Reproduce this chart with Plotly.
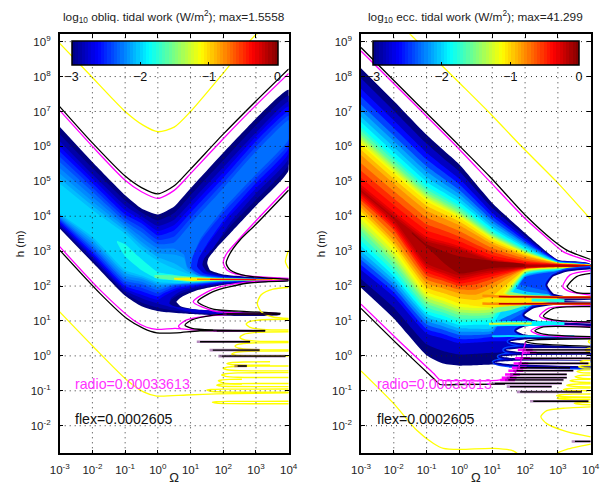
import plotly.graph_objects as go

# ---------- labels ----------
TITLE_L = "log<sub>10</sub> obliq. tidal work (W/m<sup>2</sup>); max=1.5558"
TITLE_R = "log<sub>10</sub> ecc. tidal work (W/m<sup>2</sup>); max=41.299"
RADIO_TXT = "radio=0.00033613"
FLEX_TXT = "flex=0.0002605"
Q_TICKS = [-3, -2, -1, 0, 1, 2, 3, 4]
H_TICKS = [-2, -1, 0, 1, 2, 3, 4, 5, 6, 7, 8, 9]
CB_TICKS = [-3, -2, -1, 0]

# ---------- left panel: filled contour levels, log10(Q), log10(h) ----------
LL = [-3, -2.88, -2.75, -2.62, -2.5, -2.4, -2.3, -2.22, -2.15, -2.07, -2, -1.82, -1.6, -1.1, -0.75, -0.4]
LX0 = [-3,-2,-1,-.5,0,.5,1,2,3,4, 4,3,2.3,1.8,1.55,1.51,1.6,2,3,4, 4,3,2,1.2,.75,.57,.7,1.2,2,3,3.7,3.7,2,1,0,-.5,-1,-2,-3]
LY0 = [6.56,5.55,4.6,4.22,4.05,4.28,4.8,5.82,6.8,7.62, 5.32,4.3,3.6,3.1,2.8,2.65,2.45,2.33,2.25,2.21, 2.15,2.1,2.03,1.88,1.7,1.55,1.42,1.32,1.28,1.24,1.22,1.17,1.15,1.2,1.28,1.42,1.72,2.68,3.65]
LX1 = [-3,-2,-1,-.5,0,.5,1,2,3,4, 4,3,2.2,1.7,1.42,1.36,1.5,2,3,4, 4,3,2,1.2,.7,.4,.35,.5,1,2,2.6,2.6,2,1,0,-.5,-1,-2,-3]
LYA = [6.35,5.38,4.45,4.11,3.88,4.09,4.6,5.6,6.6,7.45, 5.48,4.47,3.7,3.1,2.8,2.62,2.43,2.3,2.23,2.205, 2.155,2.12,2.05,1.92,1.78,1.6,1.46,1.37,1.31,1.26,1.23,1.19,1.17,1.23,1.38,1.53,1.8,2.75,3.7]
LY1 = [6.15,5.2,4.3,4.0,3.72,3.9,4.4,5.4,6.4,7.28, 5.65,4.65,3.8,3.1,2.8,2.6,2.4,2.28,2.22,2.2, 2.16,2.14,2.08,1.97,1.85,1.65,1.5,1.42,1.34,1.28,1.24,1.21,1.2,1.26,1.5,1.65,1.87,2.82,3.75]
LX2 = [-3,-2,-1,-.5,0,.5,1,2,3,4, 4,3,2.1,1.5,1.25,1.2,1.4,2,3,4, 4,3,2,1.2,.6,.2,0,-.5,-1,-2,-3]
LYB = [6.0,5.08,4.17,3.9,3.58,3.75,4.25,5.25,6.28,7.14, 5.8,4.8,3.9,3.15,2.8,2.57,2.38,2.27,2.215,2.197, 2.162,2.145,2.095,2.0,1.9,1.72,1.6,1.75,1.93,2.88,3.8]
LY2 = [5.85,4.95,4.05,3.8,3.45,3.6,4.1,5.1,6.15,7.0, 5.95,4.95,4.0,3.2,2.8,2.55,2.36,2.26,2.21,2.195, 2.165,2.15,2.11,2.03,1.95,1.8,1.7,1.85,2.0,2.95,3.85]
LX3 = [-3,-2,-1,-.5,0,.5,1,2,3,4, 4,3,2,1.3,1.05,1.02,1.3,2,3,4, 4,3,2,1.2,.5,0,-.5,-1,-2,-3]
LYC = [5.7,4.82,3.95,3.67,3.32,3.42,3.94,4.95,6.0,6.88, 6.08,5.08,4.1,3.28,2.8,2.52,2.34,2.25,2.207,2.192, 2.167,2.155,2.12,2.05,1.98,1.79,1.95,2.07,3.02,3.89]
LY3 = [5.55,4.7,3.85,3.55,3.2,3.25,3.78,4.8,5.85,6.75, 6.2,5.2,4.2,3.35,2.8,2.5,2.32,2.24,2.205,2.19, 2.17,2.16,2.13,2.07,2.02,1.88,2.05,2.15,3.1,3.93]
LX4 = [-3,-2,-1,-.5,0,.5,.8,.9,1.2,2,3,4, 4,3,2,1.2,.5,0,-.5,-1,-2,-3]
LYD = [5.38,4.56,3.76,3.4,3.08,3.07,2.9,2.55,2.32,2.235,2.205,2.187, 2.173,2.162,2.135,2.08,2.04,1.95,2.12,2.22,3.17,3.96]
LY4 = [5.22,4.42,3.68,3.27,2.95,2.9,2.8,2.5,2.3,2.225,2.2,2.185, 2.175,2.165,2.14,2.09,2.06,2.02,2.2,2.3,3.25,4.0]
LX5 = [-3,-2,-1,-.5,0,.5,.9,1.3,2,3,4, 4,3,2,1.2,.5,0,-.5,-1,-2,-3]
LYE = [5.08,4.3,3.59,3.17,2.83,2.65,2.42,2.28,2.22,2.197,2.184, 2.176,2.167,2.145,2.10,2.07,2.07,2.25,2.38,3.33,4.04]
LY5 = [4.94,4.18,3.5,3.05,2.72,2.5,2.35,2.27,2.215,2.195,2.183, 2.177,2.17,2.15,2.11,2.08,2.12,2.3,2.46,3.41,4.08]
LX6 = [-1.25,-1.0,-.6,0,.5,1,2,3,4, 4,3,2,1,.5,0,-.5,-1,-1.25]
LY6 = [3.3,3.2,2.85,2.4,2.32,2.27,2.21,2.19,2.18, 2.17,2.18,2.17,2.12,2.16,2.2,2.45,2.85,3.25]
LX7 = [-.1,.5,1,2,3,4, 4,3,2,1,.5,-.1]
LY7 = [2.3,2.29,2.25,2.205,2.19,2.18, 2.175,2.18,2.175,2.14,2.18,2.25]
LX8 = [.5,1,2,3,4, 3,2,1,.5]
LY8 = [2.22,2.23,2.2,2.19,2.18, 2.18,2.18,2.16,2.2]
LX9 = [1.2,2,3,3.5, 3,2,1.2]
LY9 = [2.2,2.195,2.187,2.18, 2.18,2.185,2.19]
LX10 = [1.6,3,1.6]
LY10 = [2.192,2.185,2.188]

# left lines
L_Q_V = [-3,-2,-1,-.5,0,.5,1,2,3,4]
L_BLK_V = [7.14,6.1,5.15,4.82,4.64,4.87,5.35,6.35,7.3,8.22]
L_MAG_V = [7.03,6.0,5.03,4.7,4.51,4.74,5.22,6.22,7.18,8.09]
L_BLK_A_Q = [-3,-1.77,-.95,-.44,-.03,.58,1.29,3.28]
L_BLK_A_H = [3.03,1.79,1.07,.79,.66,.66,.72,.72]
L_MAG_A_Q = [-3,-1.77,-.75,-.34,-.03,.53,.88,1.7,3.2]
L_MAG_A_H = [3.13,1.89,1.03,.82,.76,.79,.76,.72,.72]
L_BLK_B_Q = [3.74,2.51,1.7,1.04,.83,1.04,1.7,3.28]
L_BLK_B_H = [1.2,1.22,1.17,1.03,.88,.79,.74,.72]
L_MAG_B_Q = [3.6,2.31,1.5,.88,.63,.7]
L_MAG_B_H = [1.22,1.2,1.14,1.03,.85,.78]
L_BLK_C_Q = [4,2.72,1.69,1.22,1.69,2.72,3.75]
L_BLK_C_H = [2.15,2.08,1.84,1.55,1.34,1.27,1.22]
L_MAG_C_Q = [4,2.72,1.69,1.08,1.69,2.72,3.5]
L_MAG_C_H = [2.17,2.11,1.91,1.55,1.29,1.22,1.2]
L_BLK_D_Q = [4,2.72,2.21,2.09,2.21,2.51,3,4]
L_BLK_D_H = [2.19,2.29,2.46,2.65,2.94,3.32,3.77,4.75]
L_MAG_D_Q = [4,2.51,2.11,2.0,2.11,2.46,3,4]
L_MAG_D_H = [2.22,2.32,2.46,2.67,2.94,3.32,3.87,4.85]
L_ROW_H = [.405,.166,-.006,-.29,1.2,.72]
L_ROW_Q0 = [1.19,1.58,1.85,2.34,2.0,1.7]
L_ROW_Q1 = [2.82,3.11,3.9,2.72,3.74,3.28]
L_YEL_V_Q = [-3,-2.08,-1,-.44,0,.5,1,2,3,3.68]
L_YEL_V_H = [8.95,8.05,7,6.6,6.42,6.55,7,8.1,9.2,9.5]
L_YEL_W_Q = [-3,-1.97,-.95,-.44,-.03,.88,1.8,4]
L_YEL_W_H = [1.26,.26,-.69,-1.03,-1.15,-1.12,-1.09,-1.06]
L_YEL_ARC_Q = [4,3.9,4]
L_YEL_ARC_H = [3.03,2.7,2.5]
# yellow fringe lobes: tip, right end, top, bottom
L_T_Q = [3.04,2.7,2.51,2.36,2.26,2.11,2.0,1.95,1.85,1.8,1.5,1.67]
L_T_H = [1.5,.91,.53,.28,.05,-.22,-.36,-.55,-.71,-.84,-.98,-1.33]
L_T_E = [4,4,4,4,4,3.43,4,4,2.57,4,4,4]
L_T_TOP = [1.96,1.05,.69,.38,.14,-.17,-.29,-.48,-.67,-.79,-.95,-1.3]
L_T_BOT = [1.07,.74,.41,.17,-.005,-.27,-.43,-.62,-.81,-.88,-1.04,-1.37]

# ---------- right panel: filled contour levels ----------
RL = [-3, -2.8, -2.6, -2.43, -2.25, -2.12, -2, -1.87, -1.75, -1.62, -1.5, -1.37, -1.25, -1.15, -1.05, -.92, -.8, -.65, -.5, -.4, -.3, -.22, -.15]
R_UQ = [-3,-2,-1,-.5,0,1,2,3,4]
R_LQ = [-3,-2,-1,-.5,0,.5,1,2,3,4]
RU0 = [8.24,7.3,6.33,5.9,5.48,4.38,3.52,2.75,2.62]
RD0 = [1.95,1.07,.02,-.22,-.28,-.27,-.25,-.22,-.22,-.22]
RU1 = [7.95,7.02,6.08,5.67,5.28,4.24,3.44,2.74,2.615]
RD1 = [2.2,1.38,.33,.14,.04,.06,.09,.1,.1,.1]
RU2 = [7.65,6.74,5.82,5.44,5.07,4.10,3.36,2.73,2.61]
RD2 = [2.46,1.69,.64,.5,.36,.38,.42,.42,.42,.42]
RU3 = [7.43,6.53,5.63,5.27,4.91,4.0,3.3,2.72,2.61]
RD3 = [2.6,1.82,.77,.63,.48,.49,.54,.54,.54,.54]
RU4 = [7.2,6.31,5.43,5.09,4.75,3.89,3.24,2.71,2.61]
RD4 = [2.75,1.95,.9,.75,.6,.6,.65,2.25,2.42,2.48]
RU5 = [7.03,6.15,5.28,4.95,4.63,3.81,3.2,2.7,2.605]
RD5 = [2.87,2.06,1.01,.85,.7,.69,.72,2.27,2.43,2.49]
RU6 = [6.85,5.98,5.12,4.81,4.51,3.72,3.15,2.69,2.6]
RD6 = [3.0,2.17,1.12,.95,.79,.78,.8,2.3,2.45,2.5]
RU7 = [6.7,5.83,4.99,4.69,4.4,3.65,3.1,2.685,2.6]
RD7 = [3.15,2.28,1.21,1.05,.88,.89,.92,2.32,2.46,2.51]
RU8 = [6.55,5.69,4.86,4.58,4.30,3.58,3.06,2.68,2.6]
RD8 = [3.3,2.4,1.3,1.15,.98,1.0,1.05,2.35,2.48,2.52]
RU9 = [6.45,5.6,4.77,4.5,4.23,3.53,3.03,2.675,2.6]
RD9 = [3.45,2.52,1.4,1.24,1.07,1.07,1.12,2.36,2.49,2.53]
RU10 = [6.35,5.5,4.69,4.42,4.16,3.48,3.01,2.67,2.6]
RD10 = [3.6,2.65,1.5,1.33,1.17,1.15,1.2,2.38,2.5,2.54]
RU11 = [6.27,5.43,4.62,4.36,4.1,3.44,2.99,2.67,2.6]
RD11 = [3.7,2.76,1.58,1.41,1.25,1.22,1.27,2.4,2.51,2.545]
RU12 = [6.2,5.36,4.56,4.3,4.05,3.41,2.97,2.67,2.6]
RD12 = [3.8,2.87,1.67,1.5,1.33,1.3,1.35,2.42,2.52,2.55]
RU13 = [6.12,5.29,4.5,4.24,4.0,3.37,2.95,2.665,2.6]
RD13 = [3.92,2.98,1.75,1.58,1.41,1.37,1.42,2.43,2.52,2.555]
RU14 = [6.05,5.22,4.43,4.19,3.95,3.34,2.93,2.66,2.6]
RD14 = [4.03,3.1,1.84,1.67,1.5,1.45,1.5,2.45,2.53,2.56]
RU15 = [5.9,5.07,4.3,4.07,3.85,3.27,2.89,2.655,2.595]
RD15 = [4.14,3.2,1.96,1.8,1.65,1.6,1.72,2.46,2.535,2.56]
RU16 = [5.75,4.93,4.16,3.95,3.74,3.2,2.85,2.65,2.59]
RD16 = [4.25,3.3,2.08,1.93,1.79,1.75,1.95,2.48,2.54,2.56]
RU17 = [5.52,4.72,3.96,3.77,3.58,3.09,2.79,2.64,2.59]
RD17 = [4.35,3.45,2.19,2.04,1.9,1.9,2.08,2.49,2.545,2.565]
RU18 = [5.3,4.51,3.77,3.6,3.42,2.98,2.73,2.63,2.59]
RD18 = [4.45,3.6,2.3,2.15,2.0,2.05,2.2,2.5,2.55,2.57]
RU19 = [5.1,4.32,3.6,3.44,3.28,2.88,2.69,2.625,2.587]
RD19 = [4.52,3.67,2.4,2.23,2.07,2.15,2.28,2.51,2.55,2.57]
RU20 = [4.9,4.13,3.42,3.28,3.14,2.79,2.65,2.62,2.585]
RD20 = [4.6,3.75,2.5,2.32,2.15,2.25,2.35,2.52,2.55,2.57]
RU21 = [4.82,4.05,3.35,3.22,3.09,2.75,2.63,2.61,2.582]
RD21 = [4.65,3.82,2.57,2.38,2.22,2.31,2.4,2.53,2.555,2.57]
RU22 = [4.75,3.98,3.29,3.16,3.04,2.72,2.61,2.6,2.58]
RD22 = [4.7,3.9,2.65,2.45,2.3,2.37,2.45,2.54,2.56,2.57]
R_CORE_Q = [-1.45,-1,0,1,2,2,1,0,-.4,-.8,-1.45]
R_CORE_H = [3.55,3.2,2.85,2.72,2.62,2.57,2.52,2.36,2.6,2.95,3.5]
# side lobe around the two stripes near h=40
R_LOBE_L = [-2.3, -2, -1.5, -1.05]
RLXA = [.5,1.5,2,3,4, 4,3,2,1.5,1,.5]
RLYA = [2.3,2.15,2.0,1.8,1.73, 1.46,1.44,1.25,1.0,.8,.75]
RLX0 = [.5,1.5,2,3,4, 4,3,2,1.5,1,.5]
RLY0 = [2.2,2.0,1.85,1.74,1.72, 1.47,1.46,1.35,1.15,.95,.9]
RLX1 = [.5,1,1.5,2,3,4, 4,3,2,1.5,1,.5]
RLY1 = [2.0,1.95,1.85,1.76,1.72,1.71, 1.48,1.47,1.43,1.3,1.22,1.2]
RLX2 = [.3,1,1.5,2,3,4, 4,3,2,1.5,1,.3]
RLY2 = [1.95,1.88,1.75,1.72,1.7,1.7, 1.48,1.48,1.46,1.42,1.38,1.45]
R_S1_Q = [.7,1.2,2,3,4]
R_S1_H = [1.72,1.7,1.69,1.68,1.68]
R_S2_Q = [.7,1.2,2,3,4]
R_S2_H = [1.5,1.49,1.49,1.49,1.49]
R_S3_Q = [.9,1.5,2.2,3.2]
R_S3_H = [.92,.93,.93,.92]
R_S4_Q = [1,1.5,2.5,3.5]
R_S4_H = [.56,.57,.56,.56]
R_S5_Q = [2.2,2.8,3.2]
R_S5_H = [1.6,1.59,1.58]
# white tongues
WX1 = [4,3.27,2.86,2.68,2.86,3.27,4]
WY1 = [2.48,2.41,2.27,2.03,1.79,1.71,1.7]
WX2 = [4,3.12,4]
WY2 = [1.61,1.58,1.55]
WX3 = [4,2.86,2.25,1.98,2.25,2.86,4]
WY3 = [1.44,1.46,1.36,1.17,1.03,.97,.93]
WX4 = [4,2.66,1.95,1.73,1.95,2.86,4]
WY4 = [.85,.89,.83,.72,.62,.55,.53]
WX5 = [4,2.2,1.54,2.2,4]
WY5 = [.5,.48,.41,.33,.25]
WX6 = [4,2,1.41,2,4]
WY6 = [.22,.22,.17,.1,.08]
WX7 = [4,1.8,1.24,1.8,4]
WY7 = [.03,.02,-.02,-.08,-.12]
WX8 = [4,1.7,1.09,1.6,4]
WY8 = [-.14,-.14,-.18,-.24,-.3]

# right lines
R_BLK_V_Q = [-3,-1.3,-.08,.93,2.05,2.81,3.27,4]
R_BLK_V_H = [8.83,7.23,6.09,5.13,3.99,3.34,3.03,2.76]
R_MAG_V_Q = [-3,-1.3,-.08,.93,2.05,2.71,3.17,4]
R_MAG_V_H = [8.73,7.14,5.99,4.99,3.89,3.34,2.98,2.7]
R_BLK_A_Q = [-3,-1.81,-.79,-.59,-.08,1.39]
R_BLK_A_H = [1.36,.26,-.65,-.82,-.82,-.81]
R_MAG_A_Q = [-3,-1.81,-.79,-.59,-.08,1.24,1.64,1.85,1.95,2.02]
R_MAG_A_H = [1.48,.4,-.5,-.69,-.71,-.69,-.55,-.22,.17,.41]
R_BLK_T1_Q = [4,3.57,3.29,3.57,4]
R_BLK_T1_H = [2.36,2.27,1.98,1.81,1.79]
R_MAG_T1_Q = [4,3.37,3.15,3.37,4]
R_MAG_T1_H = [2.44,2.32,1.98,1.84,1.74]
R_BLK_T3_Q = [4,2.86,2.56,2.86,4]
R_BLK_T3_H = [1.41,1.36,1.14,1.03,.97]
R_MAG_T3_Q = [4,2.71,2.44,2.71,4]
R_MAG_T3_H = [1.43,1.36,1.14,1.03,.95]
R_BLK_T4_Q = [4,2.56,2.3,2.56,4]
R_BLK_T4_H = [.82,.83,.72,.62,.55]
R_MAG_T4_Q = [4,2.45,2.18,2.45,4]
R_MAG_T4_H = [.84,.84,.72,.6,.54]
R_BLK_T5_Q = [4,2.3,2.02,2.3,4]
R_BLK_T5_H = [.49,.46,.41,.35,.27]
R_ROW_H = [.17,.09,-.07,-.215,-.34,-.425,-.53,-.625,-.69,-.79,-.88,-1.03,-1.3,-2.45]
R_ROW_Q0 = [1.93,2.05,1.85,1.8,1.75,1.64,1.54,1.44,1.39,.98,1.44,1.75,2.15,3.42]
R_ROW_Q1 = [4,3.98,4,3.93,3.37,3.47,3.27,3.27,3.17,3.12,2.81,3.73,3.93,4]
R_YEL_V_Q = [-1.7,-1.5,.02,.98,1.85,2.96,4]
R_YEL_V_H = [9.4,9.21,7.8,6.9,6.04,4.99,3.91]
R_YEL_W_Q = [-3,-2.01,-1.3,-.79,-.49,.02,1.03,1.64,1.95]
R_YEL_W_H = [-.43,-1.36,-2.13,-2.51,-2.65,-2.68,-2.65,-2.72,-2.95]
R_YEL_X_Q = [2.8,2.96,3.27,4]
R_YEL_X_H = [-2.95,-2.8,-2.68,-2.53]
R_YEL_Y_Q = [4,3.27,2.66,2.48,2.66,3.17,4]
R_YEL_Y_H = [-2.32,-2.17,-1.94,-1.74,-1.57,-1.5,-1.46]
R_T_Q = [3.93,3.83,3.68,3.63,3.58,3.52,3.37,3.27,3.17,2.96,2.98,3.5]
R_T_H = [.41,.17,-.17,-.31,-.45,-.6,-.71,-.84,-.96,-1.14,-1.22,-1.36]
R_T_E = [4,4,4,4,4,4,4,4,4,4,4,4]
R_T_TOP = [.45,.22,-.13,-.27,-.4,-.55,-.67,-.8,-.92,-1.09,-1.19,-1.33]
R_T_BOT = [.37,.12,-.21,-.35,-.49,-.65,-.76,-.89,-1.0,-1.18,-1.25,-1.4]

# ---------- layout geometry ----------
W, H = 605, 485
X_DOM_L = [59.7 / W, 288.7 / W]
X_DOM_R = [361.0 / W, 590.7 / W]
Y_DOM = [1 - 453.3 / H, 1 - 34.3 / H]
Y_RANGE = [-2.79, 9.21]
X_RANGE = [-3, 4]
FONT = "Liberation Sans"


def clip(v):
    return max(0.0, min(1.0, v))


def jet(t):
    r = clip(1.5 - abs(4 * t - 3))
    g = clip(1.5 - abs(4 * t - 2))
    b = clip(1.5 - abs(4 * t - 1))
    return "rgb(%d,%d,%d)" % (r * 255, g * 255, b * 255)


def lev(level):
    return jet((level + 3) / 3)


N_STEPS = 64
colorscale = []
for i in range(N_STEPS):
    c = jet((i + 0.5) / N_STEPS)
    colorscale.append([i / N_STEPS, c])
    colorscale.append([(i + 1) / N_STEPS, c])

fig = go.Figure()


def P(v):
    return [10 ** a for a in v]


def poly(ax, xs, ys, color, line=0, fill=True, lc=None):
    fig.add_trace(go.Scatter(
        x=P(xs), y=P(ys), mode="lines", xaxis="x" + ax, yaxis="y" + ax,
        fill="toself" if fill else "none", fillcolor=color,
        line=dict(color=lc or color, width=line, shape="spline", smoothing=0.5),
        hoverinfo="skip", showlegend=False))


def curve(ax, xs, ys, color, width=1.3, smooth=0.7):
    fig.add_trace(go.Scatter(
        x=P(xs), y=P(ys), mode="lines", xaxis="x" + ax, yaxis="y" + ax,
        line=dict(color=color, width=width, shape="spline", smoothing=smooth),
        hoverinfo="skip", showlegend=False))


def lobes(ax, tq, th, te, top, bot):
    for q, h, e, t, b in zip(tq, th, te, top, bot):
        n = min(0.5, (e - q) / 2)
        m = min(0.12, (e - q) / 5)
        curve(ax, [e, q + n, q + m, q, q + m, q + n, e],
              [t, h + .9 * (t - h), h + .55 * (t - h), h, h + .55 * (b - h), h + .9 * (b - h), b],
              "#ffff00", 1.4)


# left fills
LEFT_X = [LX0, LX1, LX1, LX2, LX2, LX3, LX3, LX4, LX4, LX5, LX5, LX6, LX7, LX8, LX9, LX10]
LEFT_Y = [LY0, LYA, LY1, LYB, LY2, LYC, LY3, LYD, LY4, LYE, LY5, LY6, LY7, LY8, LY9, LY10]
for i, (lv, xs, ys) in enumerate(zip(LL, LEFT_X, LEFT_Y)):
    poly("", xs, ys, lev(lv), line=1.0 if lv >= -1.6 else 0)

# right fills, sorted by level
stack = []
R_UPS = [RU0, RU1, RU2, RU3, RU4, RU5, RU6, RU7, RU8, RU9, RU10, RU11, RU12, RU13, RU14, RU15, RU16, RU17, RU18, RU19, RU20, RU21, RU22]
R_DNS = [RD0, RD1, RD2, RD3, RD4, RD5, RD6, RD7, RD8, RD9, RD10, RD11, RD12, RD13, RD14, RD15, RD16, RD17, RD18, RD19, RD20, RD21, RD22]
for lv, up, dn in zip(RL, R_UPS, R_DNS):
    stack.append((lv, R_UQ + R_LQ[::-1], up + dn[::-1]))
for lv, xs, ys in zip(R_LOBE_L, [RLXA, RLX0, RLX1, RLX2], [RLYA, RLY0, RLY1, RLY2]):
    stack.append((lv + 0.001, xs, ys))
stack.append((-0.05, R_CORE_Q, R_CORE_H))
stack.sort(key=lambda s: s[0])
for lv, xs, ys in stack:
    poly("2", xs, ys, lev(lv))

WX = [WX1, WX2, WX3, WX4, WX5, WX6, WX7, WX8]
WY = [WY1, WY2, WY3, WY4, WY5, WY6, WY7, WY8]
for lw, lv in zip([7, 4.5, 3], [-2.4, -2.7, -2.95]):
    for xs, ys in zip(WX, WY):
        curve("2", xs, ys, lev(lv), lw, 0.5)
for xs, ys in zip(WX, WY):
    poly("2", xs, ys, "#ffffff")

curve("2", R_S5_Q, R_S5_H, lev(-1.8), 3)
curve("2", R_S1_Q, R_S1_H, lev(-.8), 2.5)
curve("2", R_S2_Q, R_S2_H, lev(-.8), 2.5)
curve("2", R_S1_Q[1:], R_S1_H[1:], lev(-.2), 1.5)
curve("2", R_S2_Q[1:], R_S2_H[1:], lev(-.2), 1.5)
curve("2", R_S3_Q, R_S3_H, lev(-1.9), 5)
curve("2", R_S3_Q[:3], R_S3_H[:3], lev(-1.25), 2)
curve("2", R_S4_Q, R_S4_H, lev(-2.0), 2)

# left lines
for xs, ys, c in [
    (L_Q_V, L_MAG_V, "#ff00ff"), (L_Q_V, L_BLK_V, "#000000"),
    (L_MAG_A_Q, L_MAG_A_H, "#ff00ff"), (L_BLK_A_Q, L_BLK_A_H, "#000000"),
    (L_MAG_B_Q, L_MAG_B_H, "#ff00ff"), (L_BLK_B_Q, L_BLK_B_H, "#000000"),
    (L_MAG_C_Q, L_MAG_C_H, "#ff00ff"), (L_BLK_C_Q, L_BLK_C_H, "#000000"),
    (L_MAG_D_Q, L_MAG_D_H, "#ff00ff"), (L_BLK_D_Q, L_BLK_D_H, "#000000"),
]:
    curve("", xs, ys, c)
curve("", L_YEL_V_Q, L_YEL_V_H, "#ffff00")
curve("", L_YEL_W_Q, L_YEL_W_H, "#ffff00")
curve("", L_YEL_ARC_Q, L_YEL_ARC_H, "#ffff00")
lobes("", L_T_Q, L_T_H, L_T_E, L_T_TOP, L_T_BOT)
for h, q0, q1 in zip(L_ROW_H, L_ROW_Q0, L_ROW_Q1):
    curve("", [q0, q1], [h, h], "rgba(90,0,110,0.45)", 2.6)
    curve("", [q0 + 0.1, q1], [h, h], "#000000", 1.3)

# right lines
curve("2", R_YEL_V_Q, R_YEL_V_H, "#ffff00")
curve("2", R_YEL_W_Q, R_YEL_W_H, "#ffff00")
curve("2", R_YEL_X_Q, R_YEL_X_H, "#ffff00")
curve("2", R_YEL_Y_Q, R_YEL_Y_H, "#ffff00")
lobes("2", R_T_Q, R_T_H, R_T_E, R_T_TOP, R_T_BOT)
for xs, ys, c in [
    (R_MAG_V_Q, R_MAG_V_H, "#ff00ff"), (R_BLK_V_Q, R_BLK_V_H, "#000000"),
    (R_MAG_A_Q, R_MAG_A_H, "#ff00ff"), (R_BLK_A_Q, R_BLK_A_H, "#000000"),
    (R_MAG_T1_Q, R_MAG_T1_H, "#ff00ff"), (R_BLK_T1_Q, R_BLK_T1_H, "#000000"),
    (R_MAG_T3_Q, R_MAG_T3_H, "#ff00ff"), (R_BLK_T3_Q, R_BLK_T3_H, "#000000"),
    (R_MAG_T4_Q, R_MAG_T4_H, "#ff00ff"), (R_BLK_T4_Q, R_BLK_T4_H, "#000000"),
    (R_BLK_T5_Q, R_BLK_T5_H, "#000000"),
]:
    curve("2", xs, ys, c)
for i, (h, q0, q1) in enumerate(zip(R_ROW_H, R_ROW_Q0, R_ROW_Q1)):
    if i <= 8:
        curve("2", [q0 - 0.15, q0 + 0.3], [h, h], "#ff00ff", 2.5)
    curve("2", [q0, q1], [h, h], "rgba(90,0,110,0.45)", 2.6)
    curve("2", [q0 + 0.1, q1], [h, h], "#000000", 1.3)

# dotted grid drawn above the fill
for ax in ["", "2"]:
    for q in Q_TICKS[1:-1]:
        fig.add_trace(go.Scatter(
            x=P([q, q]), y=P(Y_RANGE), mode="lines", xaxis="x" + ax, yaxis="y" + ax,
            line=dict(color="rgba(30,30,30,0.9)", width=1, dash="1px,4px"),
            hoverinfo="skip", showlegend=False))
    for h in H_TICKS:
        fig.add_trace(go.Scatter(
            x=P(X_RANGE), y=P([h, h]), mode="lines", xaxis="x" + ax, yaxis="y" + ax,
            line=dict(color="rgba(30,30,30,0.9)", width=1, dash="1px,4px"),
            hoverinfo="skip", showlegend=False))

# colour bars
for ax, x0 in [("", 71.5 / W), ("2", 373 / W)]:
    fig.add_trace(go.Scatter(
        x=[None], y=[None], mode="markers", xaxis="x" + ax, yaxis="y" + ax,
        hoverinfo="skip", showlegend=False,
        marker=dict(color=[0], cmin=-3, cmax=0, colorscale=colorscale, showscale=True,
                    colorbar=dict(orientation="h", x=x0, xanchor="left", y=1 - 40.5 / H, yanchor="top",
                                  len=205.5, lenmode="pixels", thickness=24, thicknessmode="pixels",
                                  xpad=0, ypad=0, outlinewidth=1.5, outlinecolor="black", borderwidth=0,
                                  tickmode="array", tickvals=CB_TICKS, ticktext=["\u2212" + str(-t) if t else "0" for t in CB_TICKS],
                                  ticks="inside", ticklen=3, tickcolor="black", bgcolor="rgba(0,0,0,0)",
                                  tickfont=dict(family=FONT, size=12.5, color="#111")))))

q_text = ["10<sup>%d</sup>" % t for t in Q_TICKS]
h_text = ["10<sup>%d</sup>" % t for t in H_TICKS]


def xaxis(dom, anchor):
    return dict(type="log", range=X_RANGE, domain=dom, anchor=anchor, showgrid=False, zeroline=False,
                tickmode="array", tickvals=P(Q_TICKS), ticktext=q_text, ticks="inside", ticklen=4, tickcolor="black",
                showline=True, linecolor="black", linewidth=1.5, mirror="ticks", layer="above traces",
                tickfont=dict(family=FONT, size=11.5, color="#222"), ticklabelstandoff=5,
                title=dict(text="\u03a9", font=dict(family=FONT, size=13, color="#222"), standoff=9),
                automargin=False)


def yaxis(anchor):
    return dict(type="log", range=Y_RANGE, domain=Y_DOM, anchor=anchor, showgrid=False, zeroline=False,
                tickmode="array", tickvals=P(H_TICKS), ticktext=h_text, ticks="inside", ticklen=4, tickcolor="black",
                showline=True, linecolor="black", linewidth=1.5, mirror="ticks", layer="above traces",
                tickfont=dict(family=FONT, size=11.5, color="#222"), ticklabelstandoff=5,
                title=dict(text="h (m)", font=dict(family=FONT, size=11.5, color="#222"), standoff=4),
                automargin=False)


annots = []
for x_c, txt in [((X_DOM_L[0] + X_DOM_L[1]) / 2, TITLE_L), ((X_DOM_R[0] + X_DOM_R[1]) / 2, TITLE_R)]:
    annots.append(dict(xref="paper", yref="paper", x=x_c, y=1 - 17 / H, text=txt, showarrow=False,
                       xanchor="center", yanchor="middle", font=dict(family=FONT, size=11.8, color="#222")))
for xr, yr in [("x", "y"), ("x2", "y2")]:
    annots.append(dict(xref=xr, yref=yr, x=-2.58, y=-0.8, text=RADIO_TXT, showarrow=False, xanchor="left",
                       yanchor="middle", font=dict(family=FONT, size=14.2, color="#ff33ff")))
    annots.append(dict(xref=xr, yref=yr, x=-2.58, y=-1.8, text=FLEX_TXT, showarrow=False, xanchor="left",
                       yanchor="middle", font=dict(family=FONT, size=14.2, color="#111")))

fig.update_layout(width=W, height=H, autosize=False, margin=dict(l=0, r=0, t=0, b=0, pad=0),
                  paper_bgcolor="white", plot_bgcolor="white", showlegend=False,
                  xaxis=xaxis(X_DOM_L, "y"), yaxis=yaxis("x"),
                  xaxis2=xaxis(X_DOM_R, "y2"), yaxis2=yaxis("x2"), annotations=annots)

fig.write_html("out.html", config={"displayModeBar": False, "responsive": False},
               post_script="document.body.style.margin='0';document.body.style.overflow='hidden';")
